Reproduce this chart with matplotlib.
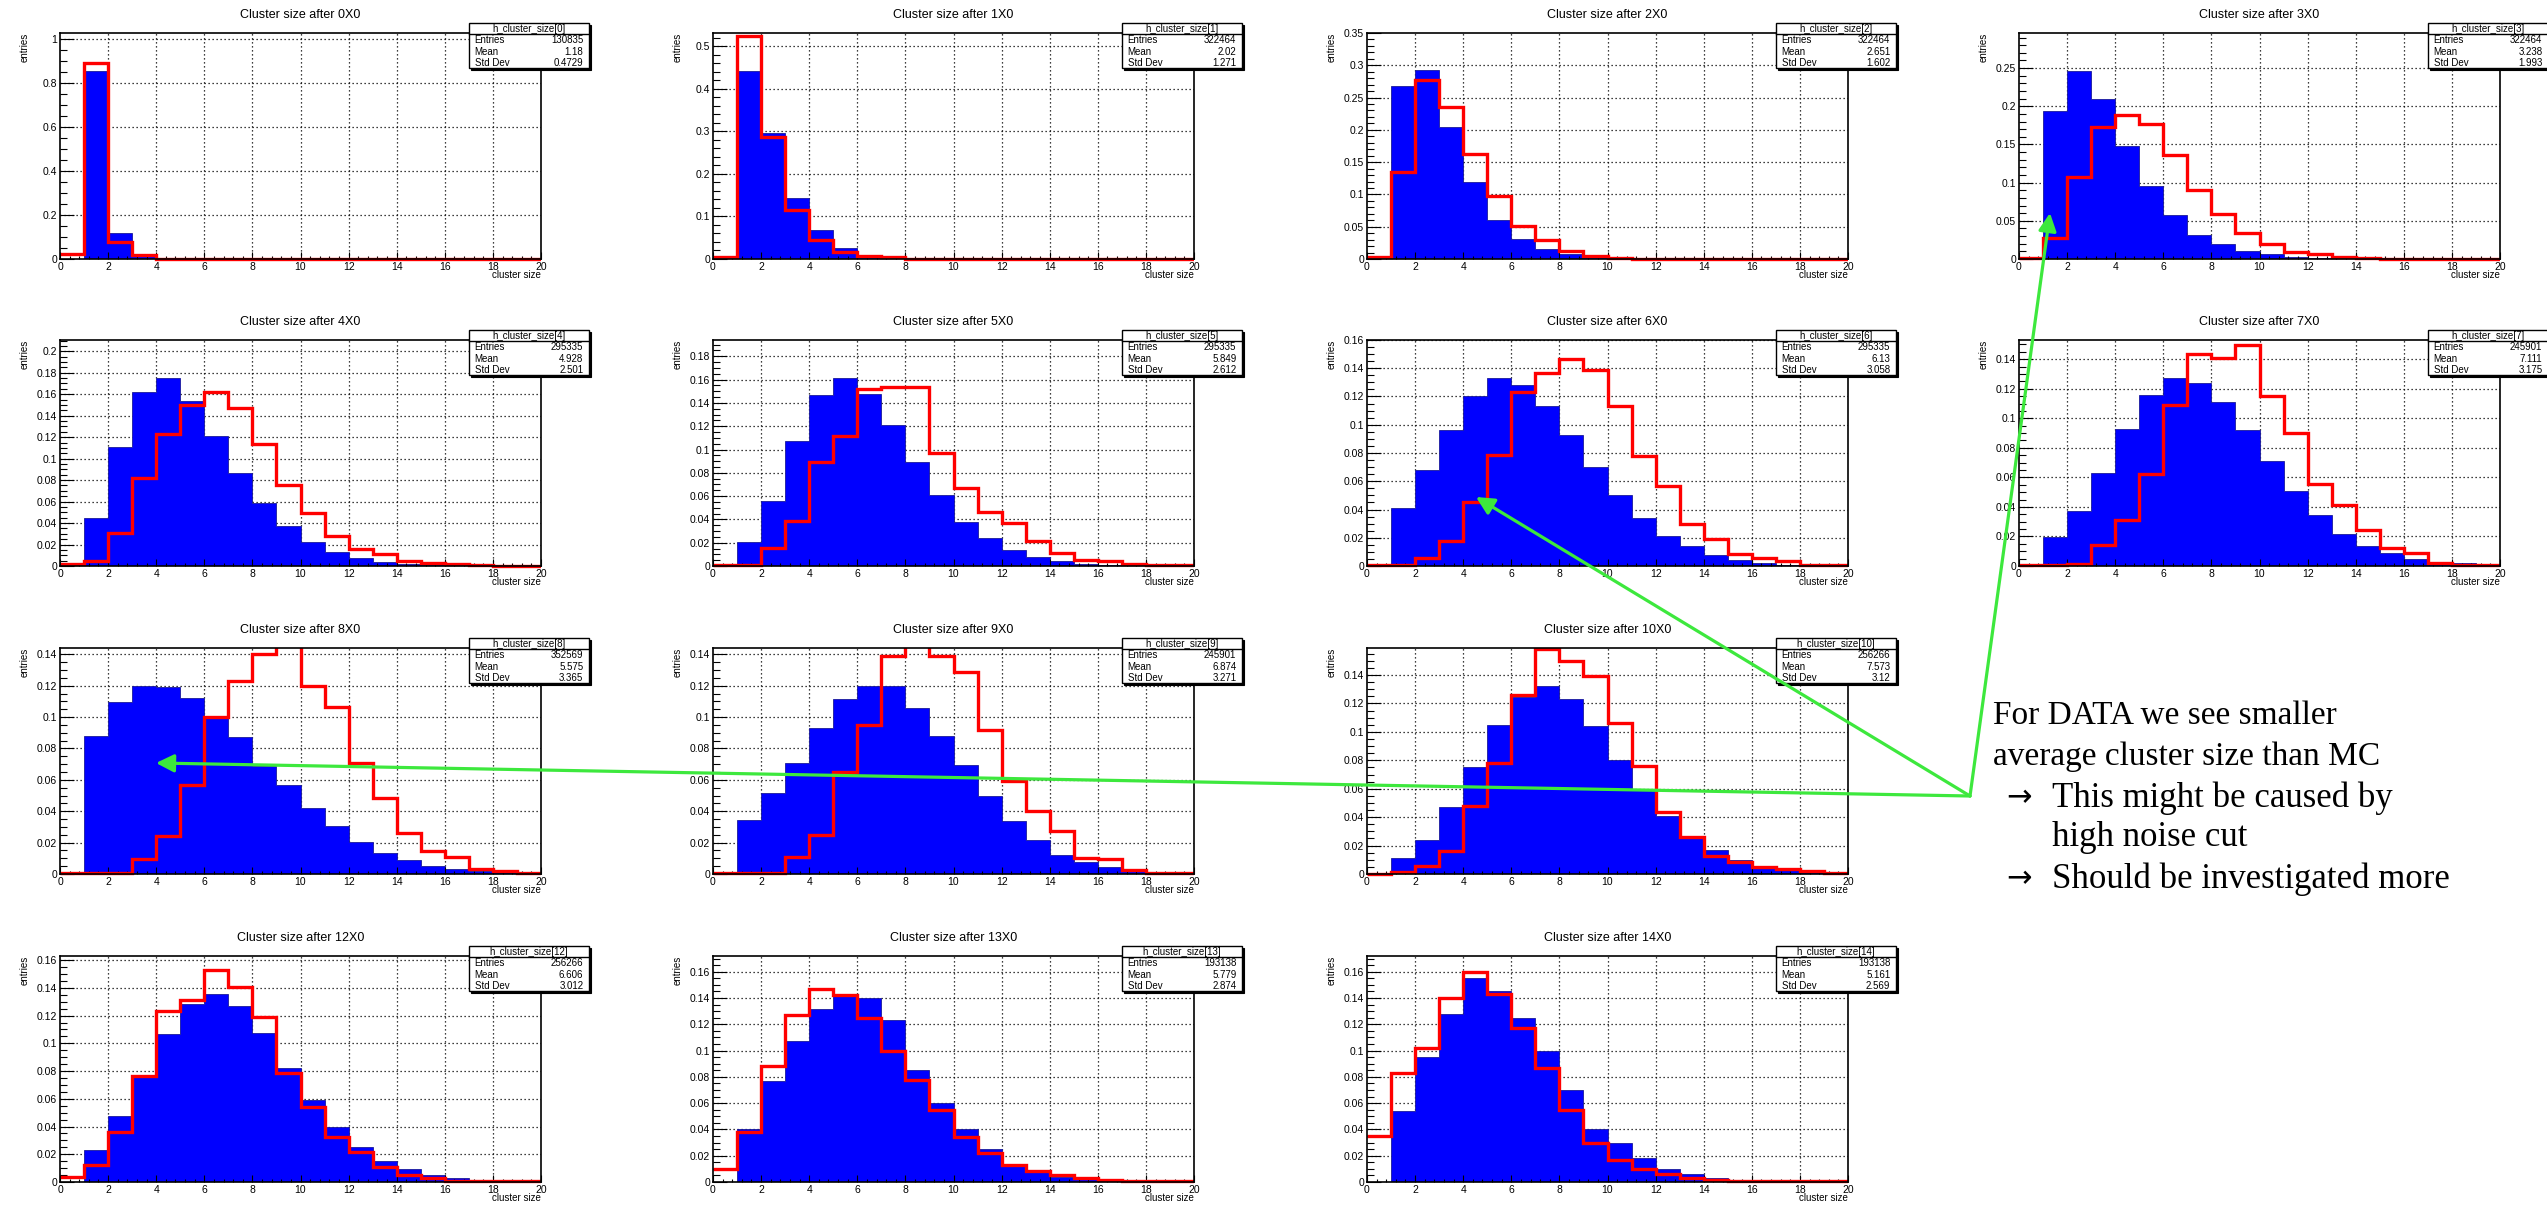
import matplotlib
matplotlib.use("Agg")
import matplotlib.pyplot as plt
import numpy as np
from matplotlib.ticker import MultipleLocator, FuncFormatter
from matplotlib.patches import Rectangle
from matplotlib.transforms import Bbox, TransformedBbox

plt.rcParams['font.family'] = ['Liberation Sans', 'DejaVu Sans']

W, H, DPI = 2547, 1210, 100

# ---------------- data (bin contents, bins 0..19, width 1) ----------------
bin_edges = list(range(0, 21))

data_0X0 = [0, .855, .118, .012, .001, 0, 0, 0, 0, 0, 0, 0, 0, 0, 0, 0, 0, 0, 0, 0]
mc_0X0 = [.023, .891, .077, .017, .002, .001, 0, 0, 0, 0, 0, 0, 0, 0, 0, 0, 0, 0, 0, 0]

data_1X0 = [0, .442, .297, .143, .067, .027, .010, .005, .001, 0, 0, 0, 0, 0, 0, 0, 0, 0, 0, 0]
mc_1X0 = [.004, .523, .287, .114, .045, .017, .006, .004, .001, 0, 0, 0, 0, 0, 0, 0, 0, 0, 0, 0]

data_2X0 = [0, .268, .292, .204, .119, .061, .031, .016, .008, .003, .001, 0, 0, 0, 0, 0, 0, 0, 0, 0]
mc_2X0 = [.003, .135, .277, .236, .163, .097, .051, .029, .012, .004, .001, 0, 0, 0, 0, 0, 0, 0, 0, 0]

data_3X0 = [0, .194, .246, .209, .148, .095, .058, .032, .019, .010, .006, .003, .0015, .001, 0, 0, 0, 0, 0, 0]
mc_3X0 = [.001, .027, .108, .173, .189, .177, .136, .090, .059, .034, .019, .009, .007, .003, .001, 0, 0, 0, 0, 0]

data_4X0 = [0, .045, .111, .162, .175, .154, .121, .087, .059, .037, .022, .013, .007, .004, .002, .001, 0, 0, 0, 0]
mc_4X0 = [.002, .005, .031, .082, .123, .150, .1625, .147, .114, .0755, .049, .028, .016, .011, .005, .003, .0015, .001, 0, 0]

data_5X0 = [0, .021, .056, .107, .147, .161, .148, .121, .089, .061, .038, .024, .014, .008, .004, .0015, .001, 0, 0, 0]
mc_5X0 = [.001, .001, .0155, .039, .089, .112, .152, .154, .154, .097, .067, .0465, .037, .0215, .0115, .0055, .004, .0015, .001, .0005]

data_6X0 = [0, .041, .068, .096, .120, .133, .128, .113, .093, .070, .050, .034, .021, .014, .008, .004, .002, .001, 0, 0]
mc_6X0 = [.0005, .0005, .0055, .0175, .0455, .0785, .1235, .1365, .1465, .139, .1135, .0778, .0566, .0295, .019, .0087, .0057, .0033, .0005, .0005]

data_7X0 = [0, .0195, .0375, .063, .093, .116, .127, .124, .111, .092, .071, .0505, .0344, .022, .0135, .009, .005, .003, .0018, .0005]
mc_7X0 = [.0005, .0007, .0015, .0145, .031, .0625, .109, .1438, .1405, .1495, .115, .090, .0557, .0416, .0243, .012, .009, .0018, .001, .0005]

data_8X0 = [0, .088, .1095, .1195, .119, .112, .0995, .087, .069, .0568, .042, .0305, .0205, .0133, .009, .0053, .0032, .002, .001, .0005]
mc_8X0 = [.0005, .0005, .0005, .0095, .024, .0568, .100, .123, .140, .150, .120, .1066, .0705, .0487, .026, .0148, .0106, .0032, .0021, .0005]

data_9X0 = [0, .0343, .0517, .071, .0928, .1114, .1197, .1197, .106, .088, .0693, .0494, .0335, .0218, .0123, .0078, .0042, .0021, .0005, 0]
mc_9X0 = [.0005, .0005, .0005, .011, .025, .065, .0947, .1388, .150, .1388, .129, .0917, .0593, .040, .0275, .0102, .0095, .0028, .0005, .0005]

data_10X0 = [0, .011, .024, .0468, .0753, .105, .1247, .132, .1233, .104, .0802, .059, .041, .0255, .017, .010, .0058, .0035, .0019, .0007]
mc_10X0 = [.0003, .0012, .0054, .016, .048, .078, .1256, .1584, .150, .139, .1064, .076, .0433, .026, .0124, .0082, .0047, .0035, .0023, .0005]

data_12X0 = [0, .0232, .0477, .0764, .1066, .1284, .1353, .127, .1075, .0824, .0592, .0395, .0251, .0153, .0091, .0048, .0029, .001, .0005, 0]
mc_12X0 = [.0036, .0122, .036, .0766, .1236, .1315, .1528, .1406, .119, .0783, .0541, .0328, .0213, .0105, .0053, .0026, .001, .0005, .0005, .0005]

data_13X0 = [0, .04, .077, .107, .132, .142, .14, .123, .085, .06, .04, .025, .014, .008, .004, .002, .001, 0, 0, 0]
mc_13X0 = [.01, .038, .088, .127, .147, .142, .125, .10, .078, .055, .034, .022, .013, .008, .005, .003, .0015, .0005, .0005, .0005]

data_14X0 = [0, .054, .095, .128, .155, .145, .125, .10, .07, .04, .03, .018, .01, .006, .003, .001, 0, 0, 0, 0]
mc_14X0 = [.035, .083, .102, .14, .16, .143, .117, .087, .055, .03, .017, .01, .006, .003, .0015, .0005, .0005, .0005, .0005, .0005]

panel_names = ["0X0", "1X0", "2X0", "3X0", "4X0", "5X0", "6X0", "7X0",
               "8X0", "9X0", "10X0", "12X0", "13X0", "14X0"]
hist_index = [0, 1, 2, 3, 4, 5, 6, 7, 8, 9, 10, 12, 13, 14]
entries = [130835, 322464, 322464, 322464, 295335, 295335, 295335, 245901,
           352569, 245901, 256266, 256266, 193138, 193138]
means = ["1.18", "2.02", "2.651", "3.238", "4.928", "5.849", "6.13", "7.111",
         "5.575", "6.874", "7.573", "6.606", "5.779", "5.161"]
stddevs = ["0.4729", "1.271", "1.602", "1.993", "2.501", "2.612", "3.058", "3.175",
           "3.365", "3.271", "3.12", "3.012", "2.874", "2.569"]
y_max = [1.027, 0.531, 0.350, 0.296, 0.2105, 0.194, 0.160, 0.153,
         0.144, 0.144, 0.159, 0.163, 0.172, 0.172]
y_step = [0.2, 0.1, 0.05, 0.05, 0.02, 0.02, 0.02, 0.02, 0.02, 0.02, 0.02, 0.02, 0.02, 0.02]
y_nminor = [4, 5, 5, 5, 4, 4, 4, 4, 4, 4, 4, 4, 4, 4]

data_series = [data_0X0, data_1X0, data_2X0, data_3X0, data_4X0, data_5X0, data_6X0,
               data_7X0, data_8X0, data_9X0, data_10X0, data_12X0, data_13X0, data_14X0]
mc_series = [mc_0X0, mc_1X0, mc_2X0, mc_3X0, mc_4X0, mc_5X0, mc_6X0,
             mc_7X0, mc_8X0, mc_9X0, mc_10X0, mc_12X0, mc_13X0, mc_14X0]

note_lines = ["For DATA we see smaller", "average cluster size than MC"]
note_bullets = [["This might be caused by", "high noise cut"],
                ["Should be investigated more"]]

# ---------------- layout (pixels) ----------------
col_left = [60, 713, 1367, 2019]
row_top = [33, 340, 648, 956]
AW, AH = 481, 226
grid_pos = [(0, 0), (0, 1), (0, 2), (0, 3), (1, 0), (1, 1), (1, 2), (1, 3),
            (2, 0), (2, 1), (2, 2), (3, 0), (3, 1), (3, 2)]

fig = plt.figure(figsize=(W / DPI, H / DPI), dpi=DPI)
fig.patch.set_facecolor('white')

fmt = FuncFormatter(lambda v, p: f"{round(v, 6):g}")

for k, name in enumerate(panel_names):
    r, c = grid_pos[k]
    left, top = col_left[c], row_top[r]
    ax = fig.add_axes([left / W, 1 - (top + AH) / H, AW / W, AH / H])
    ax.set_xlim(0, 20)
    ax.set_ylim(0, y_max[k])

    # dotted grid behind the histograms
    xt = np.arange(2, 20, 2)
    yt = np.arange(y_step[k], y_max[k], y_step[k])
    for xv in xt:
        ax.axvline(xv, color='black', ls=(0, (1, 2.2)), lw=0.9, zorder=0.5)
    for yv in yt:
        ax.axhline(yv, color='black', ls=(0, (1, 2.2)), lw=0.9, zorder=0.5)

    ax.stairs(data_series[k], bin_edges, fill=True, facecolor='#0000ff',
              edgecolor='#1a1a9a', lw=0.6, zorder=1)
    red = ax.stairs(mc_series[k], bin_edges, baseline=None, color='#ff0000',
                    lw=2.4, zorder=3)
    red.set_clip_box(TransformedBbox(Bbox([[0, -0.03], [1, 1]]), ax.transAxes))

    ax.xaxis.set_major_locator(MultipleLocator(2))
    ax.xaxis.set_minor_locator(MultipleLocator(0.4))
    ax.yaxis.set_major_locator(MultipleLocator(y_step[k]))
    ax.yaxis.set_minor_locator(MultipleLocator(y_step[k] / y_nminor[k]))
    ax.xaxis.set_major_formatter(fmt)
    ax.yaxis.set_major_formatter(fmt)
    ax.tick_params(axis='both', which='both', direction='in', top=False, right=False,
                   width=0.8, labelsize=7.5, colors='black')
    ax.tick_params(axis='x', which='major', length=5, pad=2.5)
    ax.tick_params(axis='x', which='minor', length=2.5)
    ax.tick_params(axis='y', which='major', length=10, pad=2)
    ax.tick_params(axis='y', which='minor', length=5)
    for sp in ax.spines.values():
        sp.set_linewidth(1.2)
        sp.set_zorder(5)

    ax.text(0.5, 1.08, f"Cluster size after {name}", transform=ax.transAxes,
            ha='center', va='center', fontsize=9)
    ax.text(1.0, -0.071, "cluster size", transform=ax.transAxes,
            ha='right', va='center', fontsize=7)
    ax.text(-0.073, 1.0, "entries", transform=ax.transAxes, rotation=90,
            ha='center', va='top', fontsize=7)

    # stats box
    bx0, bx1, by0, by1 = 0.85, 1.10, 0.845, 1.044
    ax.add_patch(Rectangle((bx0 + 0.004, by0 - 0.009), bx1 - bx0, by1 - by0,
                           transform=ax.transAxes, fc='black', ec='black', lw=0.8,
                           clip_on=False, zorder=9))
    ax.add_patch(Rectangle((bx0, by0), bx1 - bx0, by1 - by0, transform=ax.transAxes,
                           fc='white', ec='black', lw=1.0, clip_on=False, zorder=10))
    ax.plot([bx0, bx1], [0.996, 0.996], transform=ax.transAxes, color='black',
            lw=1.0, clip_on=False, zorder=11)
    ax.text((bx0 + bx1) / 2, 1.019, f"h_cluster_size[{hist_index[k]}]",
            transform=ax.transAxes, ha='center', va='center', fontsize=7, zorder=12)
    rows = [("Entries", str(entries[k])), ("Mean", means[k]), ("Std Dev", stddevs[k])]
    for (lab, val), yy in zip(rows, [0.969, 0.917, 0.867]):
        ax.text(bx0 + 0.012, yy, lab, transform=ax.transAxes, ha='left',
                va='center', fontsize=7, zorder=12)
        ax.text(bx1 - 0.012, yy, val, transform=ax.transAxes, ha='right',
                va='center', fontsize=7, zorder=12)

# ---------------- overlay: green arrows and note ----------------
ov = fig.add_axes([0, 0, 1, 1])
ov.set_xlim(0, W)
ov.set_ylim(H, 0)
ov.axis('off')
ov.patch.set_alpha(0)

green = '#3de83d'
start = (1970, 796)
for head in [(2050, 213), (1476, 497), (156, 763)]:
    ov.annotate('', xy=head, xytext=start,
                arrowprops=dict(arrowstyle='-|>', color=green, lw=2.3,
                                mutation_scale=27, shrinkA=0, shrinkB=0))

serif = ['Liberation Serif', 'DejaVu Serif']
fs = 24
fs_b = 25
ov.text(1993, 716, note_lines[0], family=serif, fontsize=fs, ha='left', va='center')
ov.text(1993, 757, note_lines[1], family=serif, fontsize=fs, ha='left', va='center')
y_b = [798, 879]
for bullet, yb in zip(note_bullets, y_b):
    ov.text(2006, yb, "\u2192", family=['DejaVu Sans'], fontsize=22,
            ha='left', va='center')
    for j, line in enumerate(bullet):
        ov.text(2052, yb + 40 * j, line, family=serif, fontsize=fs_b,
                ha='left', va='center')

fig.savefig("out.png", dpi=DPI)
